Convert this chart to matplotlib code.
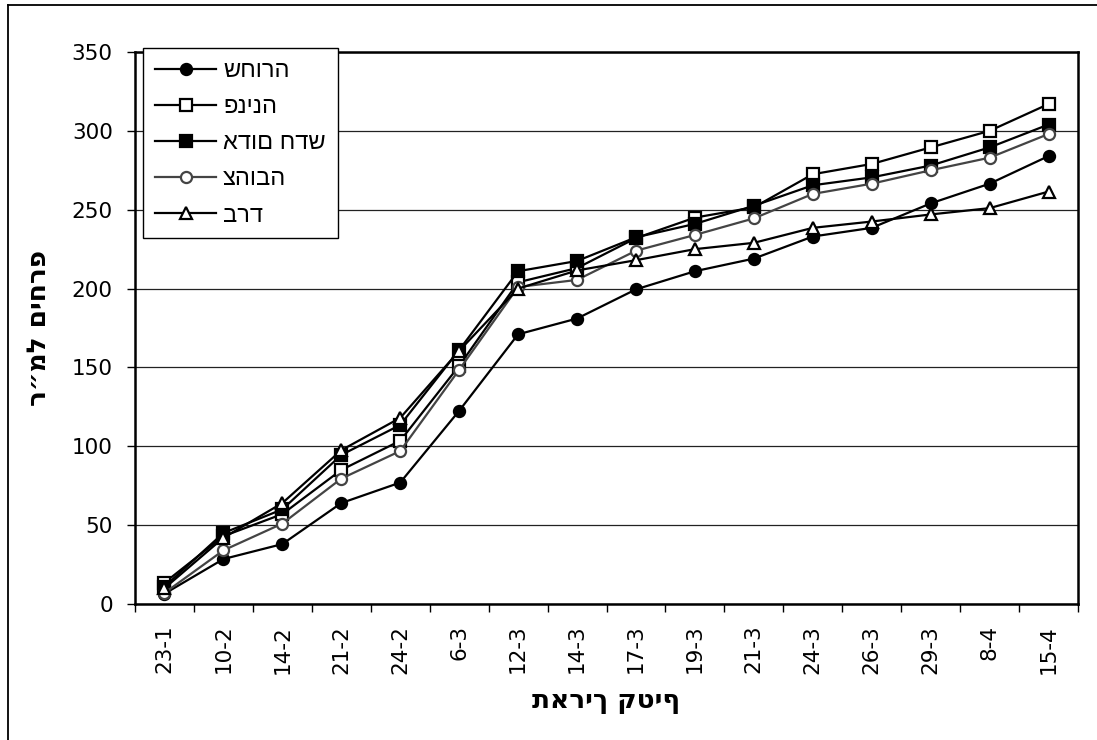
import matplotlib
matplotlib.use("Agg")
import matplotlib.pyplot as plt
from matplotlib.lines import Line2D
from matplotlib.ticker import FixedLocator, NullFormatter, FixedFormatter
import numpy as np

# Harvest dates (day-month)
dates = ['23-1', '10-2', '14-2', '21-2', '24-2', '6-3', '12-3', '14-3',
         '17-3', '19-3', '21-3', '24-3', '26-3', '29-3', '8-4', '15-4']

# Cumulative flowers per square metre for each cultivar
shchora = [6.5, 28.5, 38, 64, 77, 122.5, 171, 181, 199.5, 211, 219, 233, 238.5, 254, 266.5, 284]
pnina = [13.5, 43, 57, 85, 103.5, 151, 204, 213, 232, 245, 251.5, 272.5, 279, 289.5, 300, 317]
adom_hadash = [11, 45, 60, 94.5, 113.5, 161, 211, 217.5, 232.5, 241, 252.5, 265.5, 270.5, 278, 289.5, 304]
tzehuba = [7, 34, 51, 79.5, 97, 148.5, 201, 205.5, 224, 234, 244.5, 260, 266.5, 275, 283, 298]
barad = [10, 42, 64, 97.5, 118, 160.5, 200, 211.5, 218, 225, 229, 238.5, 242.5, 247, 251, 261.5]

series_names = ['שחורה', 'פנינה', 'אדום חדש', 'צהובה', 'ברד']
y_ticks = [0, 50, 100, 150, 200, 250, 300, 350]
x_title = 'תאריך קטיף'
y_title = 'פרחים למ״ר'

W, H = 1097, 740
fig = plt.figure(figsize=(W / 100, H / 100), dpi=100)
ax = fig.add_axes([135 / W, 1 - 604 / H, (1078 - 135) / W, (604 - 52) / H])

x = np.arange(len(dates))
styles = [
    dict(color='black', marker='o', mfc='black', mec='black'),
    dict(color='black', marker='s', mfc='white', mec='black'),
    dict(color='black', marker='s', mfc='black', mec='black'),
    dict(color='#444444', marker='o', mfc='white', mec='#444444'),
    dict(color='black', marker='^', mfc='white', mec='black'),
]
sizes = [8, 8.5, 8.5, 8, 8.5]
for vals, name, st, ms in zip([shchora, pnina, adom_hadash, tzehuba, barad],
                              series_names, styles, sizes):
    ax.plot(x, vals, lw=1.6, ms=ms, mew=1.6, label=name, clip_on=False, **st)

ax.set_xlim(-0.5, len(dates) - 0.5)
ax.set_ylim(0, 350)
ax.set_yticks(y_ticks)
ax.yaxis.grid(True, color='#222222', lw=0.9)
ax.set_axisbelow(True)

# Category boundaries carry the ticks, category centres carry the labels
ax.xaxis.set_major_locator(FixedLocator(np.arange(len(dates) + 1) - 0.5))
ax.xaxis.set_major_formatter(NullFormatter())
ax.xaxis.set_minor_locator(FixedLocator(x))
ax.xaxis.set_minor_formatter(FixedFormatter(dates))
ax.tick_params(axis='x', which='major', length=6, width=1, direction='out')
ax.tick_params(axis='x', which='minor', length=0, pad=15, labelsize=15.5, labelrotation=90)
ax.tick_params(axis='y', length=6, width=1, direction='out', labelsize=15.5, pad=10)
for lab in ax.get_xticklabels(minor=True) + ax.get_yticklabels():
    lab.set_fontfamily('DejaVu Sans')

for sp in ax.spines.values():
    sp.set_color('black')
    sp.set_linewidth(1.8)

ax.set_xlabel(x_title, fontsize=19, fontweight='bold',
              family=['DejaVu Sans', 'Liberation Sans'])
ax.set_ylabel(y_title[::-1], fontsize=19, fontweight='bold',
              family=['DejaVu Sans', 'Liberation Sans'])
ax.xaxis.set_label_coords(0.5, -0.152)
ax.yaxis.set_label_coords(-0.088, 0.5)

leg = ax.legend(loc='upper left', bbox_to_anchor=(8 / 943, 1.007), frameon=True,
                fancybox=False, edgecolor='black', framealpha=1,
                prop={'family': ['Liberation Sans', 'DejaVu Sans'], 'size': 17},
                handlelength=2.6, handletextpad=0.3, labelspacing=0.6,
                borderpad=0.5, borderaxespad=0)
leg.get_frame().set_linewidth(1.0)

# Outer chart-area frame
fig.add_artist(Line2D([8 / W, 8 / W], [0, 1 - 5 / H], color='black', lw=1.3))
fig.add_artist(Line2D([8 / W, 1], [1 - 5 / H, 1 - 5 / H], color='black', lw=1.3))

fig.savefig('out.png', dpi=100)
